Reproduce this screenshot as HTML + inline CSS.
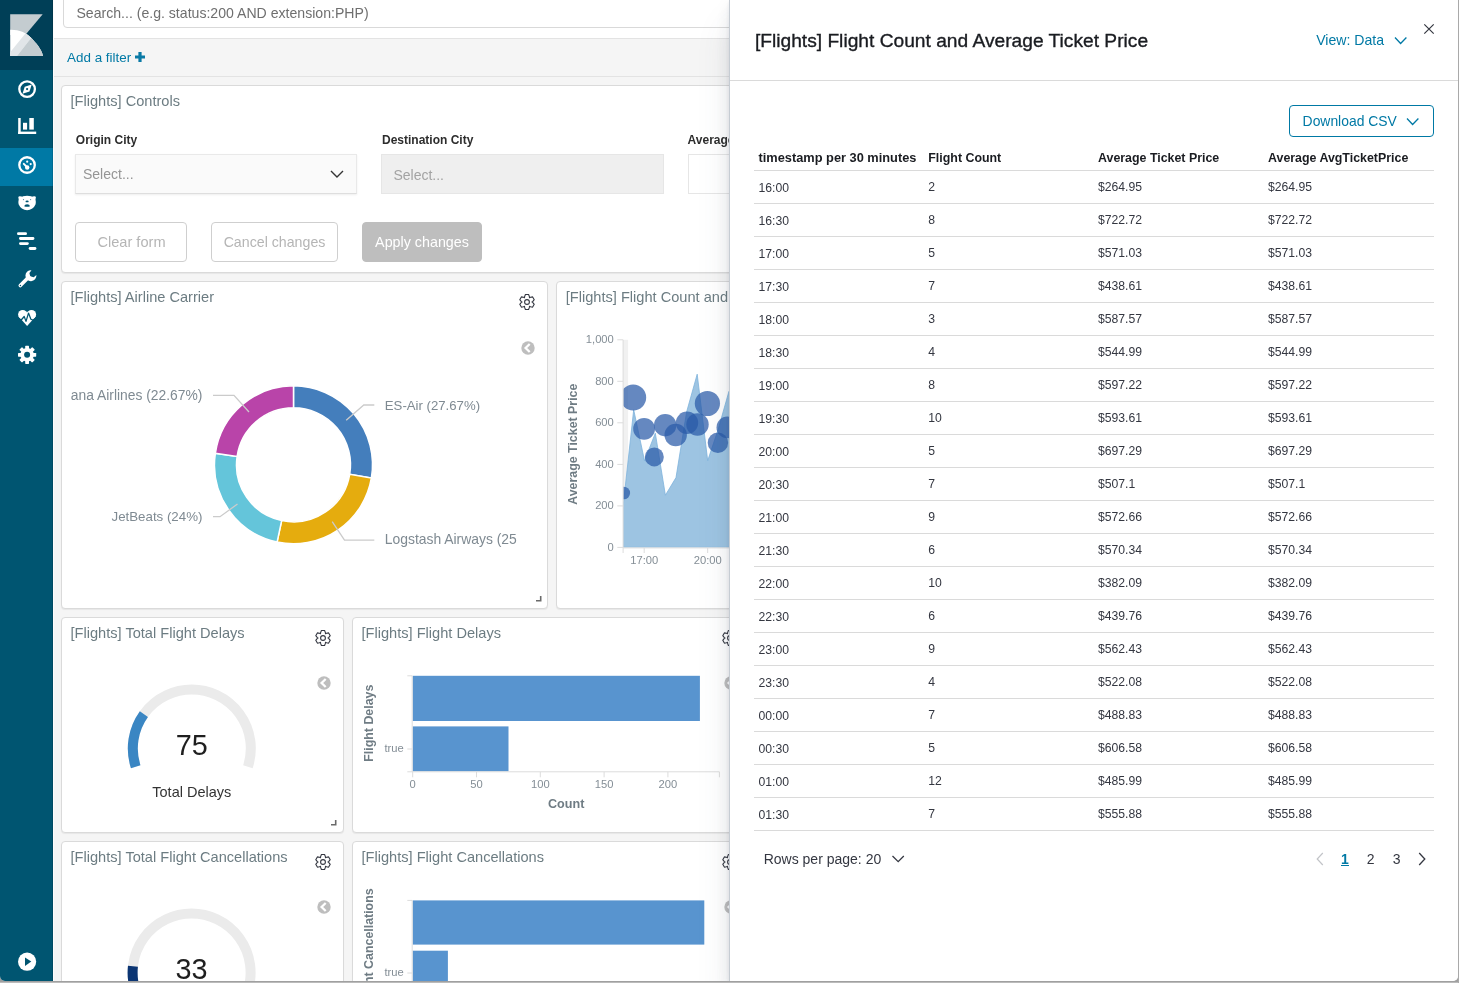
<!DOCTYPE html><html><head><meta charset="utf-8"><style>
*{box-sizing:border-box;margin:0;padding:0}
html,body{width:1459px;height:983px;overflow:hidden}
body{background:linear-gradient(#a0a0a0 0,#a0a0a0 982px,#bbbbbb 982px);font-family:"Liberation Sans",sans-serif;position:relative}
#win{position:absolute;left:0;top:0;width:1458px;height:981px;background:#f5f5f5;border-radius:0 0 5px 5px;overflow:hidden;will-change:transform}
#rb{position:absolute;left:1458px;top:0;width:1px;height:983px;background:#a9a9a9}
.t{position:absolute;white-space:nowrap;line-height:1}
svg{position:absolute;overflow:visible}
#side{position:absolute;left:0;top:0;width:53px;height:981px;background:#005571}
#logo{position:absolute;left:0;top:0;width:53px;height:70px;background:#003f57}
#sel{position:absolute;left:0;top:148px;width:53px;height:38px;background:#0079a5}
#top{position:absolute;left:53px;top:0;width:1405px;height:39px;background:#fff;border-bottom:1px solid #e3e3e3}
#search{position:absolute;left:10px;top:-6px;width:1300px;height:34px;border:1px solid #d9d9d9;border-radius:4px;background:#fff}
#fbar{position:absolute;left:53px;top:39px;width:1405px;height:38px;background:#f5f5f5;border-bottom:1px solid #e3e3e3}
.panel{position:absolute;background:#fff;border:1px solid #dadada;border-radius:4px;box-shadow:0 1px 1px rgba(0,0,0,.06);overflow:hidden}
.btn{position:absolute;border:1px solid #cfcfcf;border-radius:4px;background:#fff}
#fly{position:absolute;left:729px;top:0;width:729px;height:981px;background:#fff;border-left:1px solid #c6ccd3;
box-shadow:0 24px 32px 0 rgba(65,78,101,.1),0 8px 16px 0 rgba(65,78,101,.1),0 2px 4px 0 rgba(65,78,101,.1)}

</style></head><body>
<div id="win">
<div id="side"><div id="logo"></div><div id="sel"></div>
<svg style="left:0;top:0" width="53" height="70" viewBox="0 0 53 70">
<defs><clipPath id="lw"><path d="M10.2,29.8 C19,29.6 26,32.5 30.8,37.6 C36,43 41.5,49 43,56 L10.2,56 Z"/></clipPath></defs>
<path d="M10.2,14.2 L42.7,14.2 L25.3,35 L10.2,35 Z" fill="#c4ccd0"/>
<g clip-path="url(#lw)">
<rect x="10" y="29" width="34" height="28" fill="#fff"/>
<path d="M27.4,31 L32.6,36 L16.6,56.5 L10,56.5 L10,52.6 Z" fill="#e1e5e8"/>
<path d="M32.6,36 L50,36 L50,57 L16.6,56.5 Z" fill="#c4ccd0"/>
</g>
</svg>
<svg style="left:0;top:0" width="53" height="400" viewBox="0 0 53 400">
<g fill="none" stroke="#fff" stroke-width="2.3">
<circle cx="27.1" cy="89.1" r="7.8"/>
<circle cx="27.05" cy="165" r="7.75"/>
</g>
<path d="M31.7,84.5 L29.5,91.4 L22.5,93.7 L24.7,86.8 Z" fill="#fff"/>
<circle cx="27.1" cy="89.1" r="1.1" fill="#005571"/>
<!-- visualize -->
<g fill="#fff">
<rect x="18.2" y="118" width="2.5" height="16"/>
<rect x="18.2" y="131.6" width="18" height="2.4"/>
<rect x="23" y="122.8" width="4.1" height="6.8"/>
<rect x="29.3" y="118" width="4.5" height="11.6"/>
</g>
<!-- dashboard inner -->
<g fill="#fff">
<circle cx="27.2" cy="167.5" r="2.2"/>
<circle cx="27.2" cy="161.7" r="1.1"/>
<circle cx="30.7" cy="164.1" r="1.1"/>
</g>
<path d="M23.8,163.9 L27.2,167.4" stroke="#fff" stroke-width="2" stroke-linecap="round"/>
<!-- timelion bear -->
<path d="M18.3,197.6 Q18.3,196.3 19.9,196.3 L21.6,196.5 Q22.3,196.9 23,196.3 Q25,195.7 27.1,195.7 Q29.2,195.7 31.2,196.3 Q31.9,196.9 32.6,196.5 L34.3,196.3 Q35.9,196.3 35.9,197.6 Q35.6,198.8 35.5,199.6 Q36.1,202 35.6,204.2 Q34.6,206.7 32.3,208.4 Q29.8,210.2 27.1,210.2 Q24.4,210.2 21.9,208.4 Q19.6,206.7 18.6,204.2 Q18.1,202 18.7,199.6 Q18.6,198.8 18.3,197.6 Z" fill="#fff"/>
<ellipse cx="27.1" cy="201.4" rx="1.6" ry="0.9" fill="#005571"/>
<path d="M24.2,206.3 Q24.6,204.2 27.1,204.2 Q29.6,204.2 30,206.3 Q27.1,207.3 24.2,206.3 Z" fill="#005571"/>
<circle cx="23.5" cy="199.6" r="0.65" fill="#5f8ea1"/>
<circle cx="30.6" cy="199.6" r="0.65" fill="#5f8ea1"/>
<!-- apm lines -->
<g stroke="#fff" stroke-width="2.8" stroke-linecap="round">
<line x1="18.4" y1="233.7" x2="25.6" y2="233.7"/>
<line x1="20.4" y1="238.5" x2="33" y2="238.5"/>
<line x1="20.4" y1="243.6" x2="27.4" y2="243.6"/>
<line x1="30.1" y1="248.5" x2="35" y2="248.5"/>
</g>
<!-- wrench -->
<path d="M20.3,285.6 L28.8,277.1" stroke="#fff" stroke-width="3.6" stroke-linecap="round"/>
<path d="M31.5,270.2 A5.5,5.5 0 1 0 36.4,275.1 L33.7,277.2 L30.2,276.2 L29.4,273 Z" fill="#fff"/>
<circle cx="20.4" cy="285.5" r="0.7" fill="#005571"/>
<!-- heart -->
<g fill="#fff"><circle cx="22.7" cy="314.5" r="4.6"/><circle cx="31.5" cy="314.5" r="4.6"/><path d="M18.4,316.3 L27.1,326.1 L35.8,316.3 L27.1,312 Z"/></g>
<path d="M16.5,320 L21.2,320 L24.2,316.5 L26,321.4 L28.5,313.1 L30.9,319.2 L32.7,320 L37.5,320" stroke="#005571" stroke-width="1.25" fill="none" stroke-linejoin="round"/>
<!-- gear -->
<g fill="#fff" transform="translate(27.1,354.8)">
<circle r="6.8"/>
<g id="tooth"><rect x="-1.9" y="-9.1" width="3.8" height="4" rx=".6"/></g>
<use href="#tooth" transform="rotate(45)"/><use href="#tooth" transform="rotate(90)"/><use href="#tooth" transform="rotate(135)"/>
<use href="#tooth" transform="rotate(180)"/><use href="#tooth" transform="rotate(225)"/><use href="#tooth" transform="rotate(270)"/><use href="#tooth" transform="rotate(315)"/>
<circle r="3" fill="#005571"/>
</g>
</svg>
<svg style="left:0;top:940" width="53" height="41" viewBox="0 940 53 41">
<circle cx="27.1" cy="961.7" r="9.1" fill="#fff"/>
<path d="M25,957.4 L31.3,961.6 L25,966 Z" fill="#005571"/>
</svg>
<div style="position:absolute;left:52px;top:0;width:1px;height:981px;background:rgba(0,0,0,.12)"></div></div>
<div style="position:absolute;left:53px;top:0;width:1px;height:981px;background:#fdfcfc;z-index:1"></div>
<div id="top"><div id="search"></div></div>
<div class="t" style="left:76.4px;top:6.3px;font-size:14.1px;color:#6f6f6f;">Search... (e.g. status:200 AND extension:PHP)</div>
<div id="fbar"></div>
<div class="t" style="left:67.1px;top:50.9px;font-size:13.4px;color:#0079a5;">Add a filter</div>
<svg style="left:134.7px;top:52.2px" width="10" height="10" viewBox="0 0 10 10"><path d="M3.4,0h3.2v3.4h3.4v3.2h-3.4v3.4h-3.2v-3.4h-3.4v-3.2h3.4z" fill="#0a7aa6"/></svg>
<div class="panel" style="left:61px;top:85px;width:700px;height:188px"></div>
<div class="t" style="left:70.5px;top:93.9px;font-size:14.6px;color:#6c7c82;">[Flights] Controls</div>
<div class="t" style="left:75.8px;top:133.6px;font-size:12px;color:#2d2d2d;font-weight:bold;">Origin City</div>
<div class="t" style="left:382.0px;top:133.6px;font-size:12px;color:#2d2d2d;font-weight:bold;">Destination City</div>
<div class="t" style="left:687.6px;top:133.6px;font-size:12px;color:#2d2d2d;font-weight:bold;">Average</div>
<div class="abs" style="position:absolute;left:75px;top:154px;width:282px;height:40px;background:#fafafa;border:1px solid #e9e9e9;border-bottom-color:#dedede;box-shadow:0 1px 2px rgba(0,0,0,.07)"></div>
<div class="abs" style="position:absolute;left:381px;top:154px;width:283px;height:40px;background:#efefef;border:1px solid #e6e6e6"></div>
<div class="abs" style="position:absolute;left:688px;top:154px;width:283px;height:40px;background:#fff;border:1px solid #e6e6e6"></div>
<div class="t" style="left:83.0px;top:167.0px;font-size:14.0px;color:#959595;">Select...</div>
<div class="t" style="left:393.4px;top:167.9px;font-size:14.0px;color:#a3a3a3;">Select...</div>
<svg style="left:330px;top:169px" width="14" height="10" viewBox="0 0 14 10"><path d="M1,2 L7,8 L13,2" fill="none" stroke="#333" stroke-width="1.4"/></svg>
<div class="btn" style="left:75px;top:222px;width:112px;height:40px"></div>
<div class="btn" style="left:211px;top:222px;width:127px;height:40px"></div>
<div class="btn" style="left:362px;top:222px;width:120px;height:40px;background:#bebebe;border-color:#bebebe"></div>
<div class="t" style="left:131.5px;top:235.2px;font-size:14.6px;color:#b5b5b5;transform:translateX(-50%);">Clear form</div>
<div class="t" style="left:274.5px;top:235.1px;font-size:14.2px;color:#b5b5b5;transform:translateX(-50%);">Cancel changes</div>
<div class="t" style="left:422.0px;top:235.4px;font-size:14.3px;color:#fff;transform:translateX(-50%);">Apply changes</div>
<div class="panel" style="left:61px;top:281px;width:487px;height:328px"></div>
<div class="t" style="left:70.5px;top:289.9px;font-size:14.6px;color:#6c7c82;">[Flights] Airline Carrier</div>
<svg style="left:518px;top:293px" width="18" height="18" viewBox="-9 -9 18 18"><path transform="scale(1.0)" d="M-2.40,-5.39 L-1.58,-7.43 L1.58,-7.43 L2.40,-5.39 L2.50,-4.33 L3.47,-4.77 L5.65,-5.09 L7.23,-2.35 L5.87,-0.62 L5.00,-0.00 L5.87,0.62 L7.23,2.35 L5.65,5.09 L3.47,4.77 L2.50,4.33 L2.40,5.39 L1.58,7.43 L-1.58,7.43 L-2.40,5.39 L-2.50,4.33 L-3.47,4.77 L-5.65,5.09 L-7.23,2.35 L-5.87,0.62 L-5.00,0.00 L-5.87,-0.62 L-7.23,-2.35 L-5.65,-5.09 L-3.47,-4.77 L-2.50,-4.33 Z" fill="none" stroke="#343741" stroke-width="1.1" stroke-linejoin="round"/><circle r="2.4" fill="none" stroke="#343741" stroke-width="1.1"/></svg>
<svg style="left:520.1px;top:339.5px" width="16" height="16" viewBox="-8 -8 16 16"><circle r="6.7" fill="#bebebe"/><path d="M1.7,-4 L-2.4,0 L1.7,4" fill="none" stroke="#fff" stroke-width="2.3"/></svg>
<svg style="left:535.5px;top:596.3px" width="6" height="6" viewBox="0 0 6 6"><path d="M4.7,0 V4.7 H0" fill="none" stroke="#6a6a6a" stroke-width="1.6"/></svg>
<svg style="left:0;top:0" width="1" height="1"><path d="M293.50,385.80 A79,79 0 0 1 371.39,477.99 L349.70,474.32 A57,57 0 0 0 293.50,407.80 Z" fill="#447ebc" stroke="#fff" stroke-width="1.5"/><path d="M371.39,477.99 A79,79 0 0 1 277.09,542.08 L281.66,520.56 A57,57 0 0 0 349.70,474.32 Z" fill="#e5ac0e" stroke="#fff" stroke-width="1.5"/><path d="M277.09,542.08 A79,79 0 0 1 215.35,453.28 L237.11,456.49 A57,57 0 0 0 281.66,520.56 Z" fill="#64c5da" stroke="#fff" stroke-width="1.5"/><path d="M215.35,453.28 A79,79 0 0 1 293.50,385.80 L293.50,407.80 A57,57 0 0 0 237.11,456.49 Z" fill="#b944a9" stroke="#fff" stroke-width="1.5"/>
<g fill="none" stroke="#cbcbcb" stroke-width="1.3">
<polyline points="249,412 234,395.3 213,395.3"/>
<polyline points="346.2,420.2 363.8,405 374.3,405"/>
<polyline points="237.5,504 220,516.7 213,516.7"/>
<polyline points="332.2,521.6 344.5,540.2 374.3,540.2"/>
</g></svg>
<div style="position:absolute;left:70px;top:380px;width:470px;height:180px;overflow:hidden"><div class="t" style="left:0.8px;top:9.0px;font-size:13.85px;color:#7f8a92;">ana Airlines (22.67%)</div>
<div class="t" style="left:132.4px;top:129.7px;font-size:13.3px;color:#7f8a92;transform:translateX(-100%);">JetBeats (24%)</div>
<div class="t" style="left:314.8px;top:18.8px;font-size:13.2px;color:#7f8a92;">ES-Air (27.67%)</div>
<div class="t" style="left:314.8px;top:153.2px;font-size:13.9px;color:#7f8a92;">Logstash Airways (25</div>
</div>
<div class="panel" style="left:556px;top:281px;width:300px;height:328px"></div>
<div class="t" style="left:565.8px;top:289.9px;font-size:14.6px;color:#6c7c82;">[Flights] Flight Count and Average Ticket Price</div>
<svg style="left:0;top:0" width="1" height="1"><rect x="623.1" y="339.8" width="5" height="207.6" fill="#f1f1f1"/><clipPath id="cc"><rect x="623.1" y="330" width="110" height="217.4"/></clipPath><g clip-path="url(#cc)"><polygon points="623.1,547.4 623.1,506.4 633.7,409.8 644.5,460.7 655.3,433.2 665.4,495.2 676.0,477.6 686.6,412.0 697.2,374.2 707.7,460.7 718.3,429.0 728.9,391.5 739.5,380.0 750.0,420.0 750,547.4" fill="#9dc4e2" stroke="#7db2dc" stroke-width="0.8"/><circle cx="623.8" cy="493" r="6.3" fill="#2a5aa8" fill-opacity="0.72"/><circle cx="633.2" cy="397.5" r="13" fill="#2a5aa8" fill-opacity="0.72"/><circle cx="644.1" cy="428.8" r="10.9" fill="#2a5aa8" fill-opacity="0.72"/><circle cx="654.3" cy="456.9" r="9.5" fill="#2a5aa8" fill-opacity="0.72"/><circle cx="665.2" cy="425.2" r="11.2" fill="#2a5aa8" fill-opacity="0.72"/><circle cx="675.7" cy="435" r="11.2" fill="#2a5aa8" fill-opacity="0.72"/><circle cx="687" cy="422.8" r="11.2" fill="#2a5aa8" fill-opacity="0.72"/><circle cx="697.5" cy="424.5" r="11.2" fill="#2a5aa8" fill-opacity="0.72"/><circle cx="707.4" cy="403.5" r="12.6" fill="#2a5aa8" fill-opacity="0.72"/><circle cx="717.9" cy="442.8" r="10.2" fill="#2a5aa8" fill-opacity="0.72"/><circle cx="727.4" cy="427.4" r="10.9" fill="#2a5aa8" fill-opacity="0.72"/></g><g stroke="#dcdcdc" stroke-width="1" fill="none"><line x1="623.1" y1="339.8" x2="623.1" y2="547.9"/><line x1="617.3" y1="547.4" x2="623.1" y2="547.4"/><line x1="617.3" y1="505.9" x2="623.1" y2="505.9"/><line x1="617.3" y1="464.4" x2="623.1" y2="464.4"/><line x1="617.3" y1="422.8" x2="623.1" y2="422.8"/><line x1="617.3" y1="381.3" x2="623.1" y2="381.3"/><line x1="617.3" y1="339.8" x2="623.1" y2="339.8"/><line x1="623.1" y1="547.9" x2="740" y2="547.9"/><line x1="623.1" y1="547.9" x2="623.1" y2="553"/><line x1="644.2" y1="547.9" x2="644.2" y2="553"/><line x1="707.7" y1="547.9" x2="707.7" y2="553"/></g></svg>
<div class="t" style="left:613.8px;top:541.9px;font-size:11.2px;color:#848e96;transform:translateX(-100%);">0</div>
<div class="t" style="left:613.8px;top:500.4px;font-size:11.2px;color:#848e96;transform:translateX(-100%);">200</div>
<div class="t" style="left:613.8px;top:458.8px;font-size:11.2px;color:#848e96;transform:translateX(-100%);">400</div>
<div class="t" style="left:613.8px;top:417.3px;font-size:11.2px;color:#848e96;transform:translateX(-100%);">600</div>
<div class="t" style="left:613.8px;top:375.8px;font-size:11.2px;color:#848e96;transform:translateX(-100%);">800</div>
<div class="t" style="left:613.8px;top:334.3px;font-size:11.2px;color:#848e96;transform:translateX(-100%);">1,000</div>
<div class="t" style="left:644.2px;top:555.0px;font-size:11.2px;color:#848e96;transform:translateX(-50%);">17:00</div>
<div class="t" style="left:707.7px;top:555.0px;font-size:11.2px;color:#848e96;transform:translateX(-50%);">20:00</div>
<div class="t" style="left:572.5px;top:437.8px;font-size:12.4px;color:#6f7c84;font-weight:bold;transform:translate(-50%,0) rotate(-90deg);transform-origin:50% 50%;">Average Ticket Price</div>
<div class="panel" style="left:61px;top:617px;width:283px;height:216px"></div>
<div class="t" style="left:70.5px;top:625.8px;font-size:14.6px;color:#6c7c82;">[Flights] Total Flight Delays</div>
<svg style="left:314px;top:629px" width="18" height="18" viewBox="-9 -9 18 18"><path transform="scale(1.0)" d="M-2.40,-5.39 L-1.58,-7.43 L1.58,-7.43 L2.40,-5.39 L2.50,-4.33 L3.47,-4.77 L5.65,-5.09 L7.23,-2.35 L5.87,-0.62 L5.00,-0.00 L5.87,0.62 L7.23,2.35 L5.65,5.09 L3.47,4.77 L2.50,4.33 L2.40,5.39 L1.58,7.43 L-1.58,7.43 L-2.40,5.39 L-2.50,4.33 L-3.47,4.77 L-5.65,5.09 L-7.23,2.35 L-5.87,0.62 L-5.00,0.00 L-5.87,-0.62 L-7.23,-2.35 L-5.65,-5.09 L-3.47,-4.77 L-2.50,-4.33 Z" fill="none" stroke="#343741" stroke-width="1.1" stroke-linejoin="round"/><circle r="2.4" fill="none" stroke="#343741" stroke-width="1.1"/></svg>
<svg style="left:316px;top:675.2px" width="16" height="16" viewBox="-8 -8 16 16"><circle r="6.7" fill="#bebebe"/><path d="M1.7,-4 L-2.4,0 L1.7,4" fill="none" stroke="#fff" stroke-width="2.3"/></svg>
<svg style="left:0;top:0" width="1" height="1"><path d="M135.69,766.73 A59,59 0 1 1 247.91,766.73" fill="none" stroke="#ebebeb" stroke-width="10"/><path d="M135.69,766.73 A59,59 0 0 1 143.89,714.07" fill="none" stroke="#3a86c3" stroke-width="10"/></svg>
<div class="t" style="left:191.8px;top:731.0px;font-size:28.8px;color:#1f1f1f;transform:translateX(-50%);">75</div>
<div class="t" style="left:191.8px;top:785.2px;font-size:14.5px;color:#333;transform:translateX(-50%);">Total Delays</div>
<svg style="left:331.4px;top:820.4px" width="6" height="6" viewBox="0 0 6 6"><path d="M4.7,0 V4.7 H0" fill="none" stroke="#6a6a6a" stroke-width="1.6"/></svg>
<div class="panel" style="left:61px;top:841px;width:283px;height:216px"></div>
<div class="t" style="left:70.5px;top:849.8px;font-size:14.6px;color:#6c7c82;">[Flights] Total Flight Cancellations</div>
<svg style="left:314px;top:853px" width="18" height="18" viewBox="-9 -9 18 18"><path transform="scale(1.0)" d="M-2.40,-5.39 L-1.58,-7.43 L1.58,-7.43 L2.40,-5.39 L2.50,-4.33 L3.47,-4.77 L5.65,-5.09 L7.23,-2.35 L5.87,-0.62 L5.00,-0.00 L5.87,0.62 L7.23,2.35 L5.65,5.09 L3.47,4.77 L2.50,4.33 L2.40,5.39 L1.58,7.43 L-1.58,7.43 L-2.40,5.39 L-2.50,4.33 L-3.47,4.77 L-5.65,5.09 L-7.23,2.35 L-5.87,0.62 L-5.00,0.00 L-5.87,-0.62 L-7.23,-2.35 L-5.65,-5.09 L-3.47,-4.77 L-2.50,-4.33 Z" fill="none" stroke="#343741" stroke-width="1.1" stroke-linejoin="round"/><circle r="2.4" fill="none" stroke="#343741" stroke-width="1.1"/></svg>
<svg style="left:316px;top:899.2px" width="16" height="16" viewBox="-8 -8 16 16"><circle r="6.7" fill="#bebebe"/><path d="M1.7,-4 L-2.4,0 L1.7,4" fill="none" stroke="#fff" stroke-width="2.3"/></svg>
<svg style="left:0;top:0" width="1" height="1"><path d="M135.49,990.83 A59,59 0 1 1 247.71,990.83" fill="none" stroke="#ebebeb" stroke-width="10"/><path d="M135.49,990.83 A59,59 0 0 1 132.94,966.24" fill="none" stroke="#0b3573" stroke-width="10"/></svg>
<div class="t" style="left:191.6px;top:955.1px;font-size:28.8px;color:#1f1f1f;transform:translateX(-50%);">33</div>
<div class="t" style="left:191.6px;top:1009.3px;font-size:14.5px;color:#333;transform:translateX(-50%);">Total Cancellations</div>
<div class="panel" style="left:352px;top:617px;width:500px;height:216px"></div>
<div class="t" style="left:361.5px;top:625.8px;font-size:14.6px;color:#6c7c82;">[Flights] Flight Delays</div>
<svg style="left:720.5px;top:629px" width="18" height="18" viewBox="-9 -9 18 18"><path transform="scale(1.0)" d="M-2.40,-5.39 L-1.58,-7.43 L1.58,-7.43 L2.40,-5.39 L2.50,-4.33 L3.47,-4.77 L5.65,-5.09 L7.23,-2.35 L5.87,-0.62 L5.00,-0.00 L5.87,0.62 L7.23,2.35 L5.65,5.09 L3.47,4.77 L2.50,4.33 L2.40,5.39 L1.58,7.43 L-1.58,7.43 L-2.40,5.39 L-2.50,4.33 L-3.47,4.77 L-5.65,5.09 L-7.23,2.35 L-5.87,0.62 L-5.00,0.00 L-5.87,-0.62 L-7.23,-2.35 L-5.65,-5.09 L-3.47,-4.77 L-2.50,-4.33 Z" fill="none" stroke="#343741" stroke-width="1.1" stroke-linejoin="round"/><circle r="2.4" fill="none" stroke="#343741" stroke-width="1.1"/></svg>
<svg style="left:723px;top:675.2px" width="16" height="16" viewBox="-8 -8 16 16"><circle r="6.7" fill="#bebebe"/><path d="M1.7,-4 L-2.4,0 L1.7,4" fill="none" stroke="#fff" stroke-width="2.3"/></svg>
<svg style="left:0;top:0" width="1" height="1"><rect x="412.7" y="675.8" width="287.2" height="45.2" fill="#5894cf"/><rect x="412.7" y="726.4" width="95.8" height="44.9" fill="#5894cf"/><g stroke="#dcdcdc" fill="none"><line x1="412.2" y1="675.8" x2="412.2" y2="771.8"/><line x1="407.3" y1="675.8" x2="412.2" y2="675.8"/><line x1="407.3" y1="749.0" x2="412.2" y2="749.0"/><line x1="407.3" y1="771.8" x2="719.4" y2="771.8"/><line x1="412.7" y1="771.8" x2="412.7" y2="777.3"/><line x1="476.5" y1="771.8" x2="476.5" y2="777.3"/><line x1="540.3" y1="771.8" x2="540.3" y2="777.3"/><line x1="604.1" y1="771.8" x2="604.1" y2="777.3"/><line x1="667.9" y1="771.8" x2="667.9" y2="777.3"/><line x1="719.4" y1="771.8" x2="719.4" y2="777.3"/></g></svg>
<div class="t" style="left:403.7px;top:742.5px;font-size:11.2px;color:#848e96;transform:translateX(-100%);">true</div>
<div class="t" style="left:412.7px;top:778.6px;font-size:11.2px;color:#848e96;transform:translateX(-50%);">0</div>
<div class="t" style="left:476.5px;top:778.6px;font-size:11.2px;color:#848e96;transform:translateX(-50%);">50</div>
<div class="t" style="left:540.3px;top:778.6px;font-size:11.2px;color:#848e96;transform:translateX(-50%);">100</div>
<div class="t" style="left:604.1px;top:778.6px;font-size:11.2px;color:#848e96;transform:translateX(-50%);">150</div>
<div class="t" style="left:667.9px;top:778.6px;font-size:11.2px;color:#848e96;transform:translateX(-50%);">200</div>
<div class="t" style="left:566.2px;top:797.6px;font-size:12.6px;color:#6f7c84;font-weight:bold;transform:translateX(-50%);">Count</div>
<div class="t" style="left:368.7px;top:717.0px;font-size:12.4px;color:#6f7c84;font-weight:bold;transform:translate(-50%,0) rotate(-90deg);transform-origin:50% 50%;">Flight Delays</div>
<div class="panel" style="left:352px;top:841px;width:500px;height:216px"></div>
<div class="t" style="left:361.5px;top:849.8px;font-size:14.6px;color:#6c7c82;">[Flights] Flight Cancellations</div>
<svg style="left:720.5px;top:853px" width="18" height="18" viewBox="-9 -9 18 18"><path transform="scale(1.0)" d="M-2.40,-5.39 L-1.58,-7.43 L1.58,-7.43 L2.40,-5.39 L2.50,-4.33 L3.47,-4.77 L5.65,-5.09 L7.23,-2.35 L5.87,-0.62 L5.00,-0.00 L5.87,0.62 L7.23,2.35 L5.65,5.09 L3.47,4.77 L2.50,4.33 L2.40,5.39 L1.58,7.43 L-1.58,7.43 L-2.40,5.39 L-2.50,4.33 L-3.47,4.77 L-5.65,5.09 L-7.23,2.35 L-5.87,0.62 L-5.00,0.00 L-5.87,-0.62 L-7.23,-2.35 L-5.65,-5.09 L-3.47,-4.77 L-2.50,-4.33 Z" fill="none" stroke="#343741" stroke-width="1.1" stroke-linejoin="round"/><circle r="2.4" fill="none" stroke="#343741" stroke-width="1.1"/></svg>
<svg style="left:723px;top:899.2px" width="16" height="16" viewBox="-8 -8 16 16"><circle r="6.7" fill="#bebebe"/><path d="M1.7,-4 L-2.4,0 L1.7,4" fill="none" stroke="#fff" stroke-width="2.3"/></svg>
<svg style="left:0;top:0" width="1" height="1"><rect x="412.7" y="900.4" width="291.6" height="44.2" fill="#5894cf"/><rect x="412.7" y="950.6999999999999" width="35.2" height="40" fill="#5894cf"/><g stroke="#dcdcdc" fill="none"><line x1="412.2" y1="900.4" x2="412.2" y2="995.8"/><line x1="407.3" y1="900.4" x2="412.2" y2="900.4"/><line x1="407.3" y1="973.0" x2="412.2" y2="973.0"/><line x1="407.3" y1="995.8" x2="719.4" y2="995.8"/><line x1="412.7" y1="995.8" x2="412.7" y2="1001.3"/><line x1="476.5" y1="995.8" x2="476.5" y2="1001.3"/><line x1="540.3" y1="995.8" x2="540.3" y2="1001.3"/><line x1="604.1" y1="995.8" x2="604.1" y2="1001.3"/><line x1="667.9" y1="995.8" x2="667.9" y2="1001.3"/><line x1="719.4" y1="995.8" x2="719.4" y2="1001.3"/></g></svg>
<div class="t" style="left:403.7px;top:966.5px;font-size:11.2px;color:#848e96;transform:translateX(-100%);">true</div>
<div class="t" style="left:412.7px;top:1002.6px;font-size:11.2px;color:#848e96;transform:translateX(-50%);">0</div>
<div class="t" style="left:476.5px;top:1002.6px;font-size:11.2px;color:#848e96;transform:translateX(-50%);">50</div>
<div class="t" style="left:540.3px;top:1002.6px;font-size:11.2px;color:#848e96;transform:translateX(-50%);">100</div>
<div class="t" style="left:604.1px;top:1002.6px;font-size:11.2px;color:#848e96;transform:translateX(-50%);">150</div>
<div class="t" style="left:667.9px;top:1002.6px;font-size:11.2px;color:#848e96;transform:translateX(-50%);">200</div>
<div class="t" style="left:566.2px;top:1021.6px;font-size:12.6px;color:#6f7c84;font-weight:bold;transform:translateX(-50%);">Count</div>
<div class="t" style="left:368.6px;top:941.2px;font-size:12.4px;color:#6f7c84;font-weight:bold;transform:translate(-50%,0) rotate(-90deg);transform-origin:50% 50%;">Flight Cancellations</div>
<div id="fly"></div>
<div class="t" style="left:754.9px;top:31.0px;font-size:19.2px;color:#1a1c21;-webkit-text-stroke:0.35px #1a1c21;">[Flights] Flight Count and Average Ticket Price</div>
<div class="t" style="left:1316.2px;top:33.3px;font-size:14.1px;color:#0079a5;">View: Data</div>
<svg style="left:1394px;top:36px" width="14" height="10" viewBox="0 0 14 10"><path d="M1,1.5 L6.6,7.5 L12.4,1.5" fill="none" stroke="#0079a5" stroke-width="1.3"/></svg>
<svg style="left:1422px;top:22px" width="14" height="14" viewBox="0 0 14 14"><path d="M2.3,2.3 L11.7,11.7 M11.7,2.3 L2.3,11.7" stroke="#343741" stroke-width="1.2"/></svg>
<div style="position:absolute;left:730px;top:80px;width:728px;height:1px;background:#dadada"></div>
<div style="position:absolute;left:1289px;top:105px;width:145px;height:32px;border:1px solid #0079a5;border-radius:4px;background:#fff"></div>
<div class="t" style="left:1302.6px;top:114.6px;font-size:13.9px;color:#0079a5;">Download CSV</div>
<svg style="left:1406px;top:117px" width="14" height="10" viewBox="0 0 14 10"><path d="M1,1.5 L6.6,7.5 L12.4,1.5" fill="none" stroke="#0079a5" stroke-width="1.3"/></svg>
<div class="t" style="left:758.5px;top:152.0px;font-size:12.8px;color:#1a1c21;font-weight:bold;">timestamp per 30 minutes</div>
<div class="t" style="left:928.3px;top:151.7px;font-size:12.4px;color:#1a1c21;font-weight:bold;">Flight Count</div>
<div class="t" style="left:1098.0px;top:151.7px;font-size:12.4px;color:#1a1c21;font-weight:bold;">Average Ticket Price</div>
<div class="t" style="left:1268.0px;top:151.7px;font-size:12.4px;color:#1a1c21;font-weight:bold;">Average AvgTicketPrice</div>
<div style="position:absolute;left:754px;top:170px;width:680px;height:1px;background:#dadada"></div>
<div class="t" style="left:758.5px;top:181.9px;font-size:12.2px;color:#343741;">16:00</div>
<div class="t" style="left:928.3px;top:181.1px;font-size:12.2px;color:#343741;">2</div>
<div class="t" style="left:1098.0px;top:181.1px;font-size:12.2px;color:#343741;">$264.95</div>
<div class="t" style="left:1268.0px;top:181.1px;font-size:12.2px;color:#343741;">$264.95</div>
<div style="position:absolute;left:754px;top:203px;width:680px;height:1px;background:#dadada"></div>
<div class="t" style="left:758.5px;top:214.9px;font-size:12.2px;color:#343741;">16:30</div>
<div class="t" style="left:928.3px;top:214.1px;font-size:12.2px;color:#343741;">8</div>
<div class="t" style="left:1098.0px;top:214.1px;font-size:12.2px;color:#343741;">$722.72</div>
<div class="t" style="left:1268.0px;top:214.1px;font-size:12.2px;color:#343741;">$722.72</div>
<div style="position:absolute;left:754px;top:236px;width:680px;height:1px;background:#dadada"></div>
<div class="t" style="left:758.5px;top:247.9px;font-size:12.2px;color:#343741;">17:00</div>
<div class="t" style="left:928.3px;top:247.1px;font-size:12.2px;color:#343741;">5</div>
<div class="t" style="left:1098.0px;top:247.1px;font-size:12.2px;color:#343741;">$571.03</div>
<div class="t" style="left:1268.0px;top:247.1px;font-size:12.2px;color:#343741;">$571.03</div>
<div style="position:absolute;left:754px;top:269px;width:680px;height:1px;background:#dadada"></div>
<div class="t" style="left:758.5px;top:280.9px;font-size:12.2px;color:#343741;">17:30</div>
<div class="t" style="left:928.3px;top:280.1px;font-size:12.2px;color:#343741;">7</div>
<div class="t" style="left:1098.0px;top:280.1px;font-size:12.2px;color:#343741;">$438.61</div>
<div class="t" style="left:1268.0px;top:280.1px;font-size:12.2px;color:#343741;">$438.61</div>
<div style="position:absolute;left:754px;top:302px;width:680px;height:1px;background:#dadada"></div>
<div class="t" style="left:758.5px;top:313.9px;font-size:12.2px;color:#343741;">18:00</div>
<div class="t" style="left:928.3px;top:313.1px;font-size:12.2px;color:#343741;">3</div>
<div class="t" style="left:1098.0px;top:313.1px;font-size:12.2px;color:#343741;">$587.57</div>
<div class="t" style="left:1268.0px;top:313.1px;font-size:12.2px;color:#343741;">$587.57</div>
<div style="position:absolute;left:754px;top:335px;width:680px;height:1px;background:#dadada"></div>
<div class="t" style="left:758.5px;top:346.9px;font-size:12.2px;color:#343741;">18:30</div>
<div class="t" style="left:928.3px;top:346.1px;font-size:12.2px;color:#343741;">4</div>
<div class="t" style="left:1098.0px;top:346.1px;font-size:12.2px;color:#343741;">$544.99</div>
<div class="t" style="left:1268.0px;top:346.1px;font-size:12.2px;color:#343741;">$544.99</div>
<div style="position:absolute;left:754px;top:368px;width:680px;height:1px;background:#dadada"></div>
<div class="t" style="left:758.5px;top:379.9px;font-size:12.2px;color:#343741;">19:00</div>
<div class="t" style="left:928.3px;top:379.1px;font-size:12.2px;color:#343741;">8</div>
<div class="t" style="left:1098.0px;top:379.1px;font-size:12.2px;color:#343741;">$597.22</div>
<div class="t" style="left:1268.0px;top:379.1px;font-size:12.2px;color:#343741;">$597.22</div>
<div style="position:absolute;left:754px;top:401px;width:680px;height:1px;background:#dadada"></div>
<div class="t" style="left:758.5px;top:412.9px;font-size:12.2px;color:#343741;">19:30</div>
<div class="t" style="left:928.3px;top:412.1px;font-size:12.2px;color:#343741;">10</div>
<div class="t" style="left:1098.0px;top:412.1px;font-size:12.2px;color:#343741;">$593.61</div>
<div class="t" style="left:1268.0px;top:412.1px;font-size:12.2px;color:#343741;">$593.61</div>
<div style="position:absolute;left:754px;top:434px;width:680px;height:1px;background:#dadada"></div>
<div class="t" style="left:758.5px;top:445.9px;font-size:12.2px;color:#343741;">20:00</div>
<div class="t" style="left:928.3px;top:445.1px;font-size:12.2px;color:#343741;">5</div>
<div class="t" style="left:1098.0px;top:445.1px;font-size:12.2px;color:#343741;">$697.29</div>
<div class="t" style="left:1268.0px;top:445.1px;font-size:12.2px;color:#343741;">$697.29</div>
<div style="position:absolute;left:754px;top:467px;width:680px;height:1px;background:#dadada"></div>
<div class="t" style="left:758.5px;top:478.9px;font-size:12.2px;color:#343741;">20:30</div>
<div class="t" style="left:928.3px;top:478.1px;font-size:12.2px;color:#343741;">7</div>
<div class="t" style="left:1098.0px;top:478.1px;font-size:12.2px;color:#343741;">$507.1</div>
<div class="t" style="left:1268.0px;top:478.1px;font-size:12.2px;color:#343741;">$507.1</div>
<div style="position:absolute;left:754px;top:500px;width:680px;height:1px;background:#dadada"></div>
<div class="t" style="left:758.5px;top:511.9px;font-size:12.2px;color:#343741;">21:00</div>
<div class="t" style="left:928.3px;top:511.1px;font-size:12.2px;color:#343741;">9</div>
<div class="t" style="left:1098.0px;top:511.1px;font-size:12.2px;color:#343741;">$572.66</div>
<div class="t" style="left:1268.0px;top:511.1px;font-size:12.2px;color:#343741;">$572.66</div>
<div style="position:absolute;left:754px;top:533px;width:680px;height:1px;background:#dadada"></div>
<div class="t" style="left:758.5px;top:544.9px;font-size:12.2px;color:#343741;">21:30</div>
<div class="t" style="left:928.3px;top:544.1px;font-size:12.2px;color:#343741;">6</div>
<div class="t" style="left:1098.0px;top:544.1px;font-size:12.2px;color:#343741;">$570.34</div>
<div class="t" style="left:1268.0px;top:544.1px;font-size:12.2px;color:#343741;">$570.34</div>
<div style="position:absolute;left:754px;top:566px;width:680px;height:1px;background:#dadada"></div>
<div class="t" style="left:758.5px;top:577.9px;font-size:12.2px;color:#343741;">22:00</div>
<div class="t" style="left:928.3px;top:577.1px;font-size:12.2px;color:#343741;">10</div>
<div class="t" style="left:1098.0px;top:577.1px;font-size:12.2px;color:#343741;">$382.09</div>
<div class="t" style="left:1268.0px;top:577.1px;font-size:12.2px;color:#343741;">$382.09</div>
<div style="position:absolute;left:754px;top:599px;width:680px;height:1px;background:#dadada"></div>
<div class="t" style="left:758.5px;top:610.9px;font-size:12.2px;color:#343741;">22:30</div>
<div class="t" style="left:928.3px;top:610.1px;font-size:12.2px;color:#343741;">6</div>
<div class="t" style="left:1098.0px;top:610.1px;font-size:12.2px;color:#343741;">$439.76</div>
<div class="t" style="left:1268.0px;top:610.1px;font-size:12.2px;color:#343741;">$439.76</div>
<div style="position:absolute;left:754px;top:632px;width:680px;height:1px;background:#dadada"></div>
<div class="t" style="left:758.5px;top:643.9px;font-size:12.2px;color:#343741;">23:00</div>
<div class="t" style="left:928.3px;top:643.1px;font-size:12.2px;color:#343741;">9</div>
<div class="t" style="left:1098.0px;top:643.1px;font-size:12.2px;color:#343741;">$562.43</div>
<div class="t" style="left:1268.0px;top:643.1px;font-size:12.2px;color:#343741;">$562.43</div>
<div style="position:absolute;left:754px;top:665px;width:680px;height:1px;background:#dadada"></div>
<div class="t" style="left:758.5px;top:676.9px;font-size:12.2px;color:#343741;">23:30</div>
<div class="t" style="left:928.3px;top:676.1px;font-size:12.2px;color:#343741;">4</div>
<div class="t" style="left:1098.0px;top:676.1px;font-size:12.2px;color:#343741;">$522.08</div>
<div class="t" style="left:1268.0px;top:676.1px;font-size:12.2px;color:#343741;">$522.08</div>
<div style="position:absolute;left:754px;top:698px;width:680px;height:1px;background:#dadada"></div>
<div class="t" style="left:758.5px;top:709.9px;font-size:12.2px;color:#343741;">00:00</div>
<div class="t" style="left:928.3px;top:709.1px;font-size:12.2px;color:#343741;">7</div>
<div class="t" style="left:1098.0px;top:709.1px;font-size:12.2px;color:#343741;">$488.83</div>
<div class="t" style="left:1268.0px;top:709.1px;font-size:12.2px;color:#343741;">$488.83</div>
<div style="position:absolute;left:754px;top:731px;width:680px;height:1px;background:#dadada"></div>
<div class="t" style="left:758.5px;top:742.9px;font-size:12.2px;color:#343741;">00:30</div>
<div class="t" style="left:928.3px;top:742.1px;font-size:12.2px;color:#343741;">5</div>
<div class="t" style="left:1098.0px;top:742.1px;font-size:12.2px;color:#343741;">$606.58</div>
<div class="t" style="left:1268.0px;top:742.1px;font-size:12.2px;color:#343741;">$606.58</div>
<div style="position:absolute;left:754px;top:764px;width:680px;height:1px;background:#dadada"></div>
<div class="t" style="left:758.5px;top:775.9px;font-size:12.2px;color:#343741;">01:00</div>
<div class="t" style="left:928.3px;top:775.1px;font-size:12.2px;color:#343741;">12</div>
<div class="t" style="left:1098.0px;top:775.1px;font-size:12.2px;color:#343741;">$485.99</div>
<div class="t" style="left:1268.0px;top:775.1px;font-size:12.2px;color:#343741;">$485.99</div>
<div style="position:absolute;left:754px;top:797px;width:680px;height:1px;background:#dadada"></div>
<div class="t" style="left:758.5px;top:808.9px;font-size:12.2px;color:#343741;">01:30</div>
<div class="t" style="left:928.3px;top:808.1px;font-size:12.2px;color:#343741;">7</div>
<div class="t" style="left:1098.0px;top:808.1px;font-size:12.2px;color:#343741;">$555.88</div>
<div class="t" style="left:1268.0px;top:808.1px;font-size:12.2px;color:#343741;">$555.88</div>
<div style="position:absolute;left:754px;top:830px;width:680px;height:1px;background:#dadada"></div>
<div class="t" style="left:763.7px;top:852.2px;font-size:14.0px;color:#343741;">Rows per page: 20</div>
<svg style="left:891px;top:854px" width="14" height="10" viewBox="0 0 14 10"><path d="M1.5,2 L7.2,7.6 L12.8,2" fill="none" stroke="#343741" stroke-width="1.3"/></svg>
<svg style="left:1314px;top:851px" width="12" height="16" viewBox="0 0 12 16"><path d="M8.8,2 L3.2,8 L8.8,14" fill="none" stroke="#c2c4c8" stroke-width="1.2"/></svg>
<svg style="left:1416px;top:851px" width="12" height="16" viewBox="0 0 12 16"><path d="M3.2,2 L8.8,8 L3.2,14" fill="none" stroke="#343741" stroke-width="1.3"/></svg>
<div class="t" style="left:1344.9px;top:851.9px;font-size:14.0px;color:#0079a5;font-weight:bold;transform:translateX(-50%);">1</div>
<div style="position:absolute;left:1340.8px;top:864.8px;width:8px;height:1.4px;background:#0079a5"></div>
<div class="t" style="left:1370.7px;top:851.9px;font-size:14.0px;color:#343741;transform:translateX(-50%);">2</div>
<div class="t" style="left:1396.6px;top:851.9px;font-size:14.0px;color:#343741;transform:translateX(-50%);">3</div>
</div>
<div id="rb"></div>
</body></html>
